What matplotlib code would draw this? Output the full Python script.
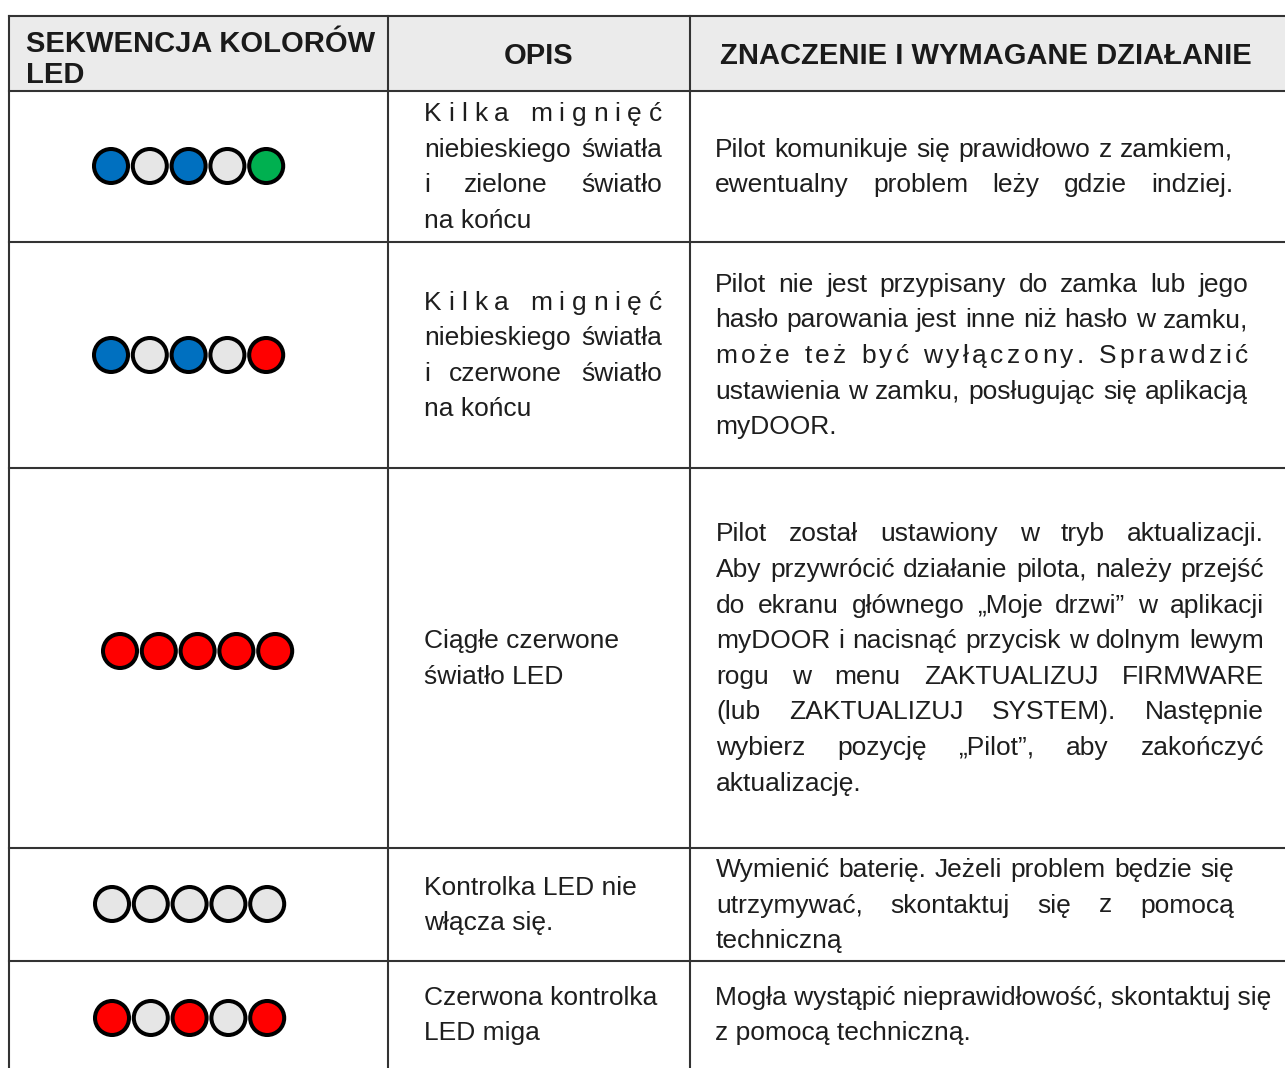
import matplotlib
matplotlib.use("Agg")
import matplotlib.pyplot as plt
from matplotlib.patches import Circle, Rectangle

plt.rcParams['font.family'] = ['Liberation Sans', 'DejaVu Sans']

# table content
headers = ["SEKWENCJA KOLORÓW\nLED", "OPIS", "ZNACZENIE I WYMAGANE DZIAŁANIE"]

led_colors = {"B": "#0070C0", "W": "#E6E6E6", "G": "#00B050", "R": "#FF0000"}
led_rows = ["BWBWG", "BWBWR", "RRRRR", "WWWWW", "RWRWR"]

# each line: (text, mode) -> l = left, j = justify words, c = spread letters
opis = [
    [("Kilka mignięć", "c"), ("niebieskiego światła", "j"), ("i zielone światło", "j"), ("na końcu", "l")],
    [("Kilka mignięć", "c"), ("niebieskiego światła", "j"), ("i czerwone światło", "j"), ("na końcu", "l")],
    [("Ciągłe czerwone", "l"), ("światło LED", "l")],
    [("Kontrolka LED nie", "l"), ("włącza się.", "l")],
    [("Czerwona kontrolka", "l"), ("LED miga", "l")],
]

znaczenie = [
    [("Pilot komunikuje się prawidłowo z zamkiem,", "j"),
     ("ewentualny problem leży gdzie indziej.", "j")],
    [("Pilot nie jest przypisany do zamka lub jego", "j"),
     ("hasło parowania jest inne niż hasło w zamku,", "j"),
     ("może też być wyłączony. Sprawdzić", "c"),
     ("ustawienia w zamku, posługując się aplikacją", "j"),
     ("myDOOR.", "l")],
    [("Pilot został ustawiony w tryb aktualizacji.", "j"),
     ("Aby przywrócić działanie pilota, należy przejść", "j"),
     ("do ekranu głównego „Moje drzwi” w aplikacji", "j"),
     ("myDOOR i nacisnąć przycisk w dolnym lewym", "j"),
     ("rogu w menu ZAKTUALIZUJ FIRMWARE", "j"),
     ("(lub ZAKTUALIZUJ SYSTEM). Następnie", "j"),
     ("wybierz pozycję „Pilot”, aby zakończyć", "j"),
     ("aktualizację.", "l")],
    [("Wymienić baterię. Jeżeli problem będzie się", "j"),
     ("utrzymywać, skontaktuj się z pomocą", "j"),
     ("techniczną", "l")],
    [("Mogła wystąpić nieprawidłowość, skontaktuj się", "l"),
     ("z pomocą techniczną.", "l")],
]

# layout (pixels)
W, H = 1285, 1068
col_x = [9, 388, 690, 1300]
row_y = [16, 91, 242, 468, 848, 961, 1100]
opis_box = (424, 662)
zn_box = [(715, 1233), (715, 1248), (716, 1264), (716, 1234), (715, 1253)]
led_x0 = [111, 111, 120, 112, 112]
led_y = [166, 355, 651, 904, 1018]
led_step = 38.8
led_r = 17
line_h = 35.6
fs = 19
txt_col = "#1e1e1e"

fig = plt.figure(figsize=(W / 100, H / 100), dpi=100)
ax = fig.add_axes([0, 0, 1, 1])
ax.set_xlim(0, W)
ax.set_ylim(H, 0)
ax.axis("off")
renderer = fig.canvas.get_renderer()


def text_w(s):
    t = ax.text(0, 0, s, fontsize=fs)
    w = t.get_window_extent(renderer).width
    t.remove()
    return w


space_w = text_w("a a") - text_w("aa")


def put_line(x0, x1, y, s, mode):
    if mode == "l":
        ax.text(x0, y, s, fontsize=fs, color=txt_col, va="baseline")
        return
    if mode == "j":
        parts = s.split(" ")
        widths = [text_w(p) for p in parts]
    else:
        parts = list(s)
        widths = [space_w if p == " " else text_w(p) for p in parts]
    gap = (x1 - x0 - sum(widths)) / max(len(parts) - 1, 1)
    x = x0
    for p, w in zip(parts, widths):
        if p != " ":
            ax.text(x, y, p, fontsize=fs, color=txt_col, va="baseline")
        x += w + gap


def put_block(x0, x1, top, bottom, lines):
    mid = (top + bottom) / 2
    first = mid - (len(lines) - 1) * line_h / 2
    for i, (s, mode) in enumerate(lines):
        put_line(x0, x1, first + i * line_h + 8, s, mode)


# header background
ax.add_patch(Rectangle((col_x[0], row_y[0]), W - col_x[0] + 10, row_y[1] - row_y[0],
                       facecolor="#EBEBEB", edgecolor="none", zorder=0))

# grid lines
for y in row_y[:-1]:
    ax.plot([col_x[0], W + 5], [y, y], color="#333333", lw=1.5)
for x in col_x[:-1]:
    ax.plot([x, x], [row_y[0], H + 5], color="#333333", lw=1.5)

# headers
hdr = dict(fontsize=21, fontweight="bold", color="#1a1a1a", va="baseline")
ax.text(26, 52, "SEKWENCJA KOLORÓW", **hdr)
ax.text(26, 83, "LED", **hdr)
ax.text((col_x[1] + col_x[2]) / 2, 64, headers[1], ha="center", **hdr)
ax.text((col_x[2] + W) / 2 - 2, 64, headers[2], ha="center", **hdr)

# rows
for i in range(len(led_rows)):
    top, bottom = row_y[i + 1], min(row_y[i + 2], H)
    for j, c in enumerate(led_rows[i]):
        ax.add_patch(Circle((led_x0[i] + j * led_step, led_y[i]), led_r,
                            facecolor=led_colors[c], edgecolor="black", lw=2.9, zorder=3))
    put_block(opis_box[0], opis_box[1], top, bottom, opis[i])
    put_block(zn_box[i][0], zn_box[i][1], top, bottom, znaczenie[i])

fig.savefig("out.png", dpi=100, facecolor="white")
